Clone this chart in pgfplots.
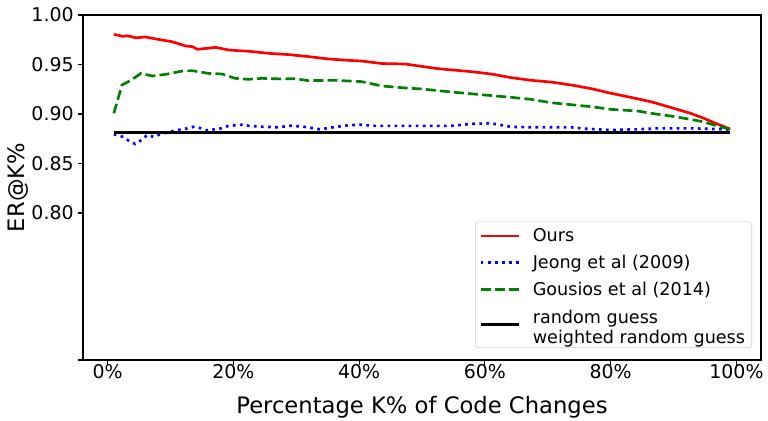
\documentclass[border=0pt]{standalone}
\usepackage{fontspec}
\setmainfont{DejaVu Sans}
\usepackage{pgfplots}
\pgfplotsset{compat=1.18}
\definecolor{mplgreen}{RGB}{0,128,0}
\begin{document}
\begin{tikzpicture}
\useasboundingbox (0,0) rectangle (576pt,315.75pt);
\begin{axis}[
  at={(62.25pt,45.75pt)}, anchor=south west,
  scale only axis, width=508.5pt, height=258.75pt,
  xmin=-3.9, xmax=103.9, ymin=0.6515, ymax=1.0,
  xtick={0,20,40,60,80,100},
  xticklabels={0\%,20\%,40\%,60\%,80\%,100\%},
  ytick={0.80,0.85,0.90,0.95,1.00},
  yticklabels={0.80,0.85,0.90,0.95,1.00},
  extra y ticks={0.6515}, extra y tick labels={},
  tick align=outside, xtick pos=bottom, ytick pos=left,
  major tick length=3.5pt,
  tick style={black, line width=0.8pt},
  axis line style={line width=0.8pt},
  ticklabel style={font=\fontsize{14.2}{16}\selectfont},
  xticklabel style={yshift=3.5pt},
  xlabel={Percentage K\% of Code Changes},
  ylabel={ER@K\%},
  xlabel style={at={(axis description cs:0.5,-0.1565)}, anchor=base, font=\fontsize{17}{20}\selectfont},
  ylabel style={at={(axis description cs:-0.0959,0.5)}, anchor=center, rotate=0, font=\fontsize{17}{20}\selectfont},
  legend style={at={(1,0)}, anchor=south east, xshift=-6.75pt, yshift=9pt,
    draw=black!20, rounded corners=2pt, fill=white,
    font=\fontsize{13.2}{16}\selectfont, row sep=4.5pt, column sep=7.5pt, inner sep=3pt},
  legend cell align=left,
  legend image code/.code={\draw[#1] (0pt,0pt) -- (28.5pt,0pt);},
]
\addplot[red, line width=2pt] coordinates {
(1,0.9805) (2.4,0.9785) (3.2,0.979) (4.5,0.977) (6,0.9778) (7.7,0.9758) (10.3,0.973) (12.4,0.9687) (13.5,0.968) (14.3,0.9653) (17.2,0.9673) (19.3,0.9646) (22.5,0.9633) (25.6,0.9613) (28.8,0.960) (31.9,0.958) (35.1,0.9556) (38.3,0.9542) (40.4,0.9535) (43.6,0.951) (47.3,0.9505) (52.5,0.9458) (57.8,0.9428) (61,0.9404) (64.2,0.9367) (67.4,0.934) (70.5,0.9323) (73.7,0.9293) (76.9,0.9256) (80,0.921) (83.2,0.9168) (86.4,0.9124) (89.5,0.9067) (92.7,0.9007) (94.8,0.8957) (96.9,0.890) (99,0.8848)
};
\addlegendentry{Ours}
\addplot[blue, line width=2pt, dash pattern=on 2pt off 3.3pt] coordinates {
(1,0.8795) (2.4,0.877) (3.4,0.873) (4.4,0.8697) (5.4,0.8737) (6.3,0.8788) (7.3,0.877) (8.4,0.8795) (10.6,0.8832) (12.7,0.8855) (13.8,0.8872) (14.9,0.8855) (16,0.8832) (17,0.8845) (18.1,0.8855) (19.2,0.8879) (20.3,0.8886) (21.5,0.8892) (22.5,0.888) (24.8,0.887) (27.1,0.8866) (29.2,0.8882) (31.4,0.887) (33.8,0.8845) (35.9,0.8866) (38.3,0.8886) (40.4,0.8892) (42.5,0.888) (47,0.888) (54.7,0.888) (57.8,0.890) (61,0.8906) (64.2,0.887) (67.4,0.8866) (73.7,0.8866) (75.8,0.8852) (80,0.8838) (84.3,0.8845) (87.4,0.8855) (92.7,0.8855) (96.9,0.8848) (99,0.8838)
};
\addlegendentry{Jeong et al (2009)}
\addplot[mplgreen, line width=2pt, dash pattern=on 7.4pt off 3.2pt] coordinates {
(1,0.9007) (2.3,0.9293) (3.7,0.934) (5.3,0.941) (7.1,0.9384) (9.2,0.940) (11.9,0.9434) (13.5,0.9437) (16.1,0.941) (18.2,0.9404) (20.3,0.936) (22.4,0.935) (24.5,0.936) (27.7,0.9354) (29.8,0.9357) (31.9,0.9337) (36.2,0.934) (40.4,0.9327) (43.6,0.9283) (47.3,0.9263) (49.9,0.9253) (54.7,0.9222) (59.4,0.9195) (64.2,0.9168) (67.4,0.9148) (70.5,0.9114) (73.7,0.9094) (76.9,0.9074) (80,0.9047) (84.3,0.903) (86.4,0.9007) (89.5,0.898) (92.7,0.8946) (94.8,0.892) (96.9,0.888) (99,0.8845)
};
\addlegendentry{Gousios et al (2014)}
\addplot[black, line width=2pt] coordinates {(1,0.881) (99,0.881)};
\addlegendentry{\raisebox{4.5pt}{\begin{tabular}{@{}l@{}}random guess\\[-1pt]weighted random guess\end{tabular}}}
\end{axis}
\end{tikzpicture}
\end{document}
